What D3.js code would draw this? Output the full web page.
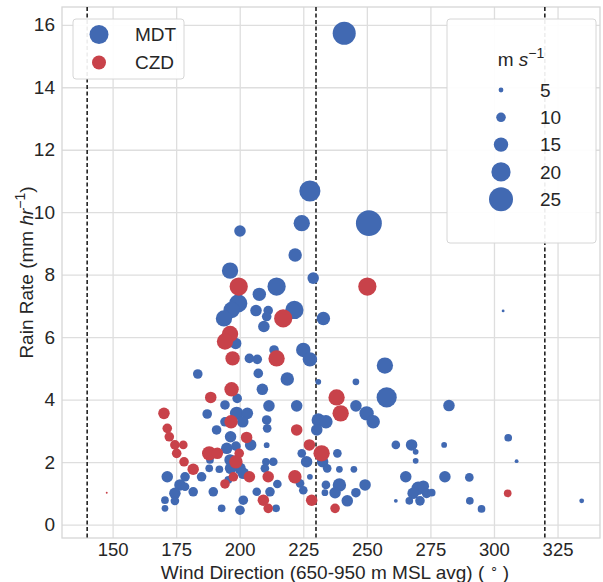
<!DOCTYPE html>
<html>
<head>
<meta charset="utf-8">
<script src="https://cdnjs.cloudflare.com/ajax/libs/d3/7.8.5/d3.min.js"></script>
<style>
body { margin: 0; background: #fff; }
text { font-family: "Liberation Sans", Arial, sans-serif; fill: #262626; }
</style>
</head>
<body>
<div id="chart"></div>
<script>
// each point: [wind direction (deg), rain rate (mm/hr), wind speed (m/s)]
var mdt = [
    [241.1, 15.73, 24], [227.6, 10.68, 22], [224.4, 9.65, 17], [250.8, 9.65, 27],
    [221.8, 8.63, 14], [228.9, 7.89, 12], [214.5, 7.62, 19], [207.7, 7.37, 14],
    [206.4, 6.85, 12], [211.2, 6.85, 10], [221.5, 6.87, 19], [210.6, 6.66, 10],
    [209.5, 6.34, 12], [232.9, 6.6, 14], [225.0, 5.59, 15], [227.6, 5.29, 15],
    [213.5, 5.59, 10], [206.9, 5.29, 10], [257.1, 5.09, 17], [207.3, 4.84, 10],
    [218.7, 4.66, 14], [245.7, 4.57, 7], [200.1, 9.40, 12], [196.2, 8.13, 17],
    [199.4, 7.08, 19], [196.8, 6.87, 17], [193.8, 6.6, 17], [198.4, 5.80, 12],
    [203.8, 5.32, 10], [183.5, 4.82, 10], [230.9, 4.57, 6], [208.9, 4.33, 12],
    [199.0, 4.04, 10], [194.2, 3.83, 10], [187.2, 3.54, 10], [211.5, 3.80, 12],
    [222.4, 3.80, 12], [198.8, 3.56, 14], [203.0, 3.56, 12], [194.2, 3.29, 10],
    [201.2, 3.29, 12], [210.6, 3.35, 10], [210.8, 3.08, 9], [190.9, 3.03, 10],
    [196.4, 2.81, 12], [210.6, 2.54, 6], [194.9, 2.44, 12], [198.5, 2.51, 10],
    [196.2, 2.07, 12], [200.1, 1.80, 12], [196.4, 1.80, 12], [188.3, 2.07, 8],
    [188.0, 1.80, 8], [192.0, 1.77, 8], [185.0, 1.53, 10], [171.5, 1.53, 12],
    [178.5, 1.53, 10], [176.5, 1.27, 12], [174.5, 1.00, 12], [181.7, 1.05, 10],
    [189.6, 1.05, 10], [195.5, 1.43, 8], [209.9, 1.80, 9], [213.2, 2.01, 9],
    [210.3, 2.01, 8], [214.8, 1.30, 9], [206.7, 1.05, 9], [211.9, 1.05, 10],
    [201.4, 0.78, 10], [200.1, 0.46, 10], [192.9, 0.52, 8], [214.3, 0.52, 8],
    [170.6, 0.78, 8], [170.6, 0.52, 7], [223.7, 1.32, 9], [225.0, 1.10, 9],
    [227.6, 1.53, 6], [230.9, 3.35, 14], [226.3, 2.01, 12], [224.4, 2.28, 9],
    [174.5, 0.76, 9], [178.5, 1.21, 9], [204.3, 2.55, 12], [201.4, 1.64, 12],
    [257.8, 4.07, 21], [245.7, 3.80, 12], [249.9, 3.56, 15], [252.5, 3.29, 14],
    [233.9, 3.29, 14], [230.3, 3.03, 12], [261.4, 2.55, 9], [267.6, 2.55, 12],
    [269.2, 2.33, 6], [269.2, 2.04, 6], [280.4, 2.55, 6], [265.3, 1.53, 12],
    [280.7, 1.53, 12], [270.2, 1.16, 14], [272.2, 1.23, 12], [268.2, 1.00, 12],
    [273.5, 1.00, 10], [270.9, 0.76, 10], [266.7, 0.76, 8], [275.5, 1.02, 8],
    [261.4, 0.76, 4], [249.3, 1.27, 12], [245.7, 1.02, 10], [242.3, 0.76, 12],
    [239.2, 1.27, 14], [237.5, 1.02, 12], [233.9, 1.27, 9], [233.5, 1.02, 7],
    [239.2, 1.77, 7], [244.9, 1.77, 7], [238.4, 2.28, 9], [232.6, 2.01, 12],
    [234.4, 1.80, 9], [303.6, 6.84, 3], [282.3, 3.81, 12], [305.6, 2.78, 8],
    [308.9, 2.03, 4], [290.3, 1.51, 9], [290.5, 0.76, 8], [295.1, 0.50, 8],
    [334.5, 0.76, 5]
];

var czd = [
    [250.2, 7.62, 19], [217.1, 6.6, 19], [214.5, 5.32, 17], [199.6, 7.62, 19],
    [196.2, 6.10, 17], [194.2, 5.86, 17], [197.2, 5.32, 15], [196.8, 4.33, 15],
    [188.6, 4.07, 12], [170.2, 3.56, 12], [196.6, 3.29, 14], [222.4, 3.03, 12],
    [171.5, 3.08, 10], [172.3, 2.81, 10], [174.5, 2.55, 10], [177.8, 2.55, 9],
    [175.2, 2.28, 10], [178.1, 2.01, 10], [181.7, 1.77, 12], [202.7, 2.79, 12],
    [188.0, 2.28, 15], [191.2, 2.28, 12], [199.8, 2.28, 10], [198.5, 2.01, 14],
    [203.8, 1.53, 12], [197.5, 1.53, 10], [194.2, 1.30, 10], [211.2, 1.53, 12],
    [221.7, 1.53, 14], [209.3, 0.78, 12], [211.2, 0.52, 10], [228.3, 0.78, 12],
    [227.4, 2.55, 12], [232.2, 2.28, 17], [238.1, 4.07, 17], [239.7, 3.56, 17],
    [237.5, 0.52, 10], [305.4, 1.00, 8], [147.7, 1.02, 2]
];

var xTicks = [150, 175, 200, 225, 250, 275, 300, 325];
var yTicks = [0, 2, 4, 6, 8, 10, 12, 14, 16];
var speedLegend = [5, 10, 15, 20, 25];
var dividers = [140, 230, 320];
var sites = ["MDT", "CZD"];

var width = 603, height = 582;
var margin = {left: 62, top: 7, right: 3, bottom: 44};

var svg = d3.select("#chart")
    .append("svg")
    .attr("width", width)
    .attr("height", height);

var x = d3.scaleLinear().domain([130.1, 341.7]).range([margin.left, width - margin.right]);
var y = d3.scaleLinear().domain([-0.43, 16.57]).range([height - margin.bottom, margin.top]);
var r = d3.scaleLinear().domain([0, 25]).range([0, 12]);
var color = d3.scaleOrdinal().domain(sites).range(["#4169b2", "#c8424a"]);

//Gridlines and ticks through d3 axes
svg.append("g")
    .attr("transform", "translate(0," + (height - margin.bottom) + ")")
    .call(d3.axisBottom(x).tickValues(xTicks).tickSize(-(height - margin.bottom - margin.top)).tickPadding(5))
    .call(function (g) {
        g.select(".domain").remove();
        g.selectAll("line").attr("stroke", "#dedede").attr("stroke-width", 1.3);
        g.selectAll("text").attr("font-size", 18.5).attr("fill", "#262626")
            .attr("font-family", "Liberation Sans, Arial, sans-serif");
    });

svg.append("g")
    .attr("transform", "translate(" + margin.left + ",0)")
    .call(d3.axisLeft(y).tickValues(yTicks).tickSize(-(width - margin.left - margin.right)).tickPadding(7))
    .call(function (g) {
        g.select(".domain").remove();
        g.selectAll("line").attr("stroke", "#dedede").attr("stroke-width", 1.3);
        g.selectAll("text").attr("font-size", 19).attr("fill", "#262626")
            .attr("font-family", "Liberation Sans, Arial, sans-serif");
    });

//Plot frame
svg.append("rect")
    .attr("x", margin.left)
    .attr("y", margin.top)
    .attr("width", width - margin.left - margin.right)
    .attr("height", height - margin.top - margin.bottom)
    .attr("fill", "none")
    .attr("stroke", "#d6d6d6")
    .attr("stroke-width", 1.3);

//Dashed sector lines
svg.selectAll(".divider")
    .data(dividers)
    .enter()
    .append("line")
    .attr("class", "divider")
    .attr("x1", function (d) { return x(d); })
    .attr("x2", function (d) { return x(d); })
    .attr("y1", margin.top)
    .attr("y2", height - margin.bottom)
    .attr("stroke", "#222")
    .attr("stroke-width", 1.6)
    .attr("stroke-dasharray", "4,2.5");

//Points
function drawSite(data, site) {
    svg.append("g")
        .selectAll("circle")
        .data(data)
        .enter()
        .append("circle")
        .attr("cx", function (d) { return x(d[0]); })
        .attr("cy", function (d) { return y(d[1]); })
        .attr("r", function (d) { return r(d[2]); })
        .attr("fill", color(site));
}
drawSite(mdt, "MDT");
drawSite(czd, "CZD");

//Site legend
var leg1 = svg.append("g");
leg1.append("rect")
    .attr("x", 73).attr("y", 19).attr("width", 111).attr("height", 60)
    .attr("rx", 3)
    .attr("fill", "#fff").attr("fill-opacity", 0.92)
    .attr("stroke", "#d6d6d6");
sites.forEach(function (s, i) {
    leg1.append("circle")
        .attr("cx", 99).attr("cy", 34.5 + i * 28)
        .attr("r", i === 0 ? 9.5 : 7)
        .attr("fill", color(s));
    leg1.append("text")
        .attr("x", 135).attr("y", 34.5 + i * 28)
        .attr("dy", "0.35em")
        .attr("font-size", 19)
        .text(s);
});

//Wind speed legend
var leg2 = svg.append("g");
leg2.append("rect")
    .attr("x", 447).attr("y", 19).attr("width", 149).attr("height", 224)
    .attr("rx", 3)
    .attr("fill", "#fff").attr("fill-opacity", 0.92)
    .attr("stroke", "#d6d6d6");
var title = leg2.append("text")
    .attr("x", 521).attr("y", 66)
    .attr("text-anchor", "middle")
    .attr("font-size", 19);
title.append("tspan").text("m ");
title.append("tspan").attr("font-style", "italic").text("s");
title.append("tspan").attr("dy", -8).attr("font-size", 14).text("\u22121");

speedLegend.forEach(function (s, i) {
    var cy = 90 + i * 27.3;
    leg2.append("circle")
        .attr("cx", 501).attr("cy", cy)
        .attr("r", r(s))
        .attr("fill", color("MDT"));
    leg2.append("text")
        .attr("x", 540).attr("y", cy)
        .attr("dy", "0.35em")
        .attr("font-size", 19)
        .text(s);
});

//Axis titles
var xt = svg.append("text")
    .attr("x", (margin.left + width - margin.right) / 2 + 4)
    .attr("y", 579)
    .attr("text-anchor", "middle")
    .attr("font-size", 19);
xt.append("tspan").text("Wind Direction (650-950 m MSL avg) ( ");
xt.append("tspan").attr("dy", -7).attr("font-size", 13).text("\u2218");
xt.append("tspan").attr("dy", 7).text(" )");

var yt = svg.append("text")
    .attr("transform", "translate(33," + ((margin.top + height - margin.bottom) / 2) + ") rotate(-90)")
    .attr("text-anchor", "middle")
    .attr("font-size", 19);
yt.append("tspan").text("Rain Rate (mm ");
yt.append("tspan").attr("font-style", "italic").text("hr");
yt.append("tspan").attr("dy", -8).attr("font-size", 14).text("\u22121");
yt.append("tspan").attr("dy", 8).text(")");
</script>
</body>
</html>
